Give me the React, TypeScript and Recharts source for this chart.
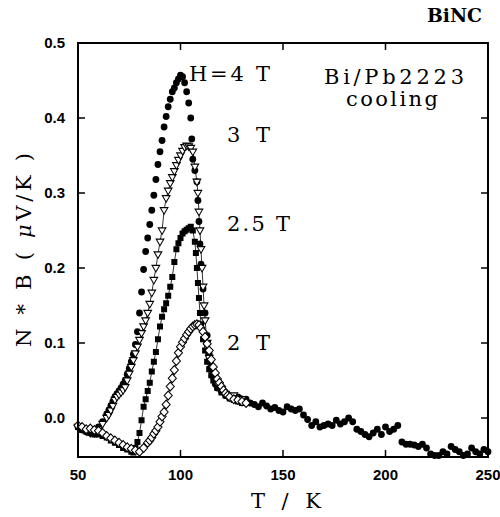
import React from "react";
import { LineChart, Line, XAxis, YAxis } from "recharts";

type Pt = [number, number];

// N*B (uV/K) vs T (K)
const h4T: Pt[] = [
  [50, -0.012], [52, -0.015], [54, -0.018], [56, -0.02], [58, -0.017], [60, -0.012], [62, -0.005],
  [64, 0.005], [65, 0.01], [66, 0.016], [67, 0.022], [68, 0.028], [69, 0.032], [70, 0.036],
  [71, 0.04], [72, 0.045], [73, 0.05], [74, 0.058], [75, 0.066], [76, 0.075], [77, 0.085],
  [78, 0.098], [79, 0.115], [80, 0.14], [81, 0.168], [82, 0.198], [83, 0.222], [84, 0.24],
  [85, 0.258], [86, 0.277], [87, 0.297], [88, 0.318], [89, 0.338], [90, 0.355], [91, 0.37],
  [92, 0.388], [93, 0.402], [94, 0.415], [95, 0.425], [96, 0.435], [97, 0.44], [98, 0.447],
  [99, 0.452], [100, 0.457], [101, 0.455], [102, 0.447], [103, 0.435], [104, 0.42], [105, 0.4],
  [105.5, 0.372], [106, 0.345], [107, 0.33], [108, 0.315], [108.5, 0.29], [109, 0.262],
  [109.5, 0.232], [110, 0.205], [111, 0.172], [112, 0.14], [113, 0.11], [114, 0.085], [115, 0.068],
  [116, 0.055], [117, 0.045], [118, 0.04], [120, 0.035], [122, 0.03], [124, 0.027], [126, 0.025],
  [128, 0.028], [130, 0.022], [132, 0.025], [134, 0.02], [136, 0.018], [138, 0.015], [140, 0.02],
  [142, 0.016], [144, 0.012], [146, 0.014], [148, 0.01], [150, 0.008], [152, 0.015], [154, 0.012],
  [156, 0.01], [158, 0.012], [160, 0.004], [162, -0.002], [164, -0.01], [166, -0.005], [168, -0.012],
  [170, -0.01], [172, -0.008], [174, -0.01], [176, -0.003], [178, -0.008], [180, -0.005], [182, 0.0],
  [184, -0.005], [186, -0.015], [188, -0.018], [190, -0.022], [192, -0.025], [194, -0.02],
  [196, -0.015], [198, -0.022], [200, -0.012], [202, -0.018], [204, -0.015], [206, -0.01],
  [208, -0.032], [210, -0.035], [212, -0.035], [214, -0.036], [216, -0.038], [218, -0.035],
  [220, -0.04], [222, -0.048], [224, -0.05], [226, -0.05], [228, -0.045], [230, -0.048],
  [232, -0.038], [234, -0.042], [236, -0.045], [238, -0.05], [240, -0.048], [242, -0.04],
  [244, -0.045], [246, -0.048], [248, -0.042], [250, -0.045],
];

const h3T: Pt[] = [
  [50, -0.012], [52, -0.015], [54, -0.018], [56, -0.02], [58, -0.02], [60, -0.015], [62, -0.008],
  [64, 0.0], [65, 0.004], [66, 0.01], [67, 0.016], [68, 0.024], [69, 0.028], [70, 0.031],
  [71, 0.034], [72, 0.037], [73, 0.041], [74, 0.05], [75, 0.059], [76, 0.068], [77, 0.077],
  [78, 0.086], [79, 0.095], [80, 0.104], [81, 0.113], [82, 0.122], [83, 0.13], [84, 0.14],
  [85, 0.152], [86, 0.167], [87, 0.184], [88, 0.2], [89, 0.218], [90, 0.235], [91, 0.25],
  [92, 0.277], [93, 0.293], [94, 0.303], [95, 0.313], [96, 0.321], [97, 0.329], [98, 0.337],
  [99, 0.344], [100, 0.35], [101, 0.356], [102, 0.361], [103, 0.363], [104, 0.362], [105, 0.36],
  [106, 0.355], [107, 0.335], [108, 0.315], [108.5, 0.3], [109, 0.275], [109.5, 0.25],
  [110, 0.225], [110.5, 0.2], [111, 0.175], [111.5, 0.15], [112, 0.13], [113, 0.1], [114, 0.08],
  [115, 0.065], [116, 0.055], [118, 0.045], [120, 0.038], [122, 0.032], [124, 0.028],
  [126, 0.03], [128, 0.026], [130, 0.025],
];

const h25T: Pt[] = [
  [50, -0.012], [52, -0.016], [54, -0.018], [56, -0.02], [58, -0.022], [60, -0.022], [62, -0.024],
  [64, -0.026], [66, -0.03], [68, -0.033], [70, -0.036], [72, -0.04], [74, -0.042], [76, -0.045],
  [77, -0.046], [78, -0.04], [79, -0.032], [80, -0.02], [81, -0.003], [82, 0.015], [83, 0.025],
  [84, 0.036], [85, 0.047], [86, 0.062], [87, 0.075], [88, 0.088], [89, 0.105], [90, 0.122],
  [91, 0.135], [92, 0.145], [93, 0.153], [94, 0.163], [95, 0.175], [96, 0.188], [97, 0.208],
  [98, 0.225], [99, 0.233], [100, 0.24], [101, 0.246], [102, 0.249], [103, 0.251], [104, 0.253],
  [105, 0.255], [106, 0.25], [107, 0.235], [107.5, 0.22], [108, 0.2], [108.5, 0.18],
  [109, 0.16], [109.5, 0.14], [110, 0.125], [111, 0.105], [112, 0.09], [113, 0.075], [114, 0.065],
  [115, 0.057], [116, 0.05], [118, 0.04], [120, 0.034], [122, 0.03], [124, 0.026], [126, 0.024],
  [128, 0.022], [130, 0.02],
];

const h2T: Pt[] = [
  [50, -0.01], [52, -0.012], [54, -0.015], [56, -0.014], [58, -0.016], [60, -0.017], [62, -0.02],
  [64, -0.024], [66, -0.027], [68, -0.03], [70, -0.033], [72, -0.036], [74, -0.039], [76, -0.041],
  [78, -0.043], [80, -0.045], [82, -0.04], [84, -0.033], [85, -0.03], [86, -0.026], [87, -0.021],
  [88, -0.017], [89, -0.012], [90, -0.005], [91, 0.002], [92, 0.008], [93, 0.018], [94, 0.03],
  [95, 0.042], [96, 0.053], [97, 0.064], [98, 0.076], [99, 0.087], [100, 0.095], [101, 0.101],
  [102, 0.106], [103, 0.111], [104, 0.115], [105, 0.119], [106, 0.122], [107, 0.124],
  [108, 0.125], [109, 0.124], [110, 0.12], [111, 0.115], [112, 0.108], [113, 0.099], [114, 0.09],
  [115, 0.078], [116, 0.068], [117, 0.06], [118, 0.052], [119, 0.047], [120, 0.042], [121, 0.037],
  [122, 0.033], [123, 0.03], [124, 0.028], [126, 0.025], [128, 0.024], [130, 0.022], [132, 0.02],
];

const xTicks = [50, 100, 150, 200, 250];
const yTicks = [0, 0.1, 0.2, 0.3, 0.4, 0.5];
const xDomain = [50, 250];
const yDomain = [-0.052, 0.5];

const toRows = (pts: Pt[]) => pts.map(([t, v]) => ({ t, v }));

// chart box
const W = 500;
const H = 517;
const M = { top: 43, right: 12, bottom: 0, left: 0 };
const X_AXIS_H = 60;
const Y_AXIS_W = 78;
const plot = {
  left: M.left + Y_AXIS_W,
  top: M.top,
  right: W - M.right,
  bottom: H - M.bottom - X_AXIS_H,
};
const px = (t: number) => plot.left + ((t - xDomain[0]) / (xDomain[1] - xDomain[0])) * (plot.right - plot.left);
const py = (v: number) => plot.bottom - ((v - yDomain[0]) / (yDomain[1] - yDomain[0])) * (plot.bottom - plot.top);

const serif = "'DejaVu Serif', 'Liberation Serif', serif";
const tickFontFamily = "'Liberation Sans', Arial, sans-serif";
const TICK = 7;
const OFF = 8; // default tickSize + tickMargin

const BottomTick = (p: any) => (
  <text x={p.x} y={p.y - OFF + 23} textAnchor="middle" fontFamily={tickFontFamily} fontSize={15} fontWeight={700}>
    {p.payload.value}
  </text>
);
const LeftTick = (p: any) => (
  <text x={p.x + OFF - 13} y={p.y + 5} textAnchor="end" fontFamily={tickFontFamily} fontSize={15} fontWeight={700}>
    {Number(p.payload.value).toFixed(1)}
  </text>
);

const circleDot = (p: any) => (
  <circle key={`c${p.index}`} cx={p.cx} cy={p.cy} r={3.4} fill="#000" />
);
const squareDot = (p: any) => (
  <rect key={`s${p.index}`} x={p.cx - 3} y={p.cy - 3} width={6} height={6} fill="#000" />
);
const triDot = (p: any) => (
  <path
    key={`t${p.index}`}
    d={`M${p.cx - 3.8},${p.cy - 2.6}L${p.cx + 3.8},${p.cy - 2.6}L${p.cx},${p.cy + 4}Z`}
    fill="#fff"
    stroke="#000"
    strokeWidth={1.1}
  />
);
const diamondDot = (p: any) => (
  <path
    key={`d${p.index}`}
    d={`M${p.cx},${p.cy - 4.4}L${p.cx + 4},${p.cy}L${p.cx},${p.cy + 4.4}L${p.cx - 4},${p.cy}Z`}
    fill="#fff"
    stroke="#000"
    strokeWidth={1.1}
  />
);

export default function App() {
  const axisLine = { stroke: "#000", strokeWidth: 2 };
  const innerX = xTicks.slice(1, -1);
  const innerY = yTicks.slice(1, -1);
  return (
    <div style={{ position: "absolute", left: 0, top: 0, width: W, height: H, background: "#fff" }}>
      <LineChart width={W} height={H} margin={M}>
        <XAxis
          dataKey="t"
          type="number"
          domain={xDomain}
          ticks={xTicks}
          height={X_AXIS_H}
          axisLine={axisLine}
          tickLine={false}
          tick={BottomTick}
        />
        <YAxis
          type="number"
          domain={yDomain}
          ticks={yTicks}
          width={Y_AXIS_W}
          axisLine={axisLine}
          tickLine={false}
          tick={LeftTick}
        />
        <Line data={toRows(h4T)} dataKey="v" stroke="none" dot={circleDot} isAnimationActive={false} />
        <Line data={toRows(h3T)} dataKey="v" stroke="#000" strokeWidth={0.8} dot={triDot} isAnimationActive={false} />
        <Line data={toRows(h25T)} dataKey="v" stroke="#000" strokeWidth={0.8} dot={squareDot} isAnimationActive={false} />
        <Line data={toRows(h2T)} dataKey="v" stroke="#000" strokeWidth={0.8} dot={diamondDot} isAnimationActive={false} />
      </LineChart>
      <svg width={W} height={H} style={{ position: "absolute", left: 0, top: 0, pointerEvents: "none" }}>
        {/* frame with inward ticks on all four sides */}
        <rect
          x={plot.left}
          y={plot.top}
          width={plot.right - plot.left}
          height={plot.bottom - plot.top}
          fill="none"
          stroke="#000"
          strokeWidth={2}
        />
        <g stroke="#000" strokeWidth={1.5}>
          {innerX.map((t) => (
            <g key={`x${t}`}>
              <line x1={px(t)} x2={px(t)} y1={plot.bottom} y2={plot.bottom - TICK} />
              <line x1={px(t)} x2={px(t)} y1={plot.top} y2={plot.top + TICK} />
            </g>
          ))}
          {innerY.map((v) => (
            <line key={`yl${v}`} x1={plot.left} x2={plot.left + TICK} y1={py(v)} y2={py(v)} />
          ))}
          {yTicks.slice(0, -1).map((v) => (
            <line key={`yr${v}`} x1={plot.right} x2={plot.right - TICK} y1={py(v)} y2={py(v)} />
          ))}
        </g>
        <text x={427} y={22} textLength={55} lengthAdjust="spacingAndGlyphs" fontFamily={serif} fontWeight={700} fontSize={18}>BiNC</text>
        <g fontFamily={serif} fontSize={21} fill="#000">
          <text x={189} y={81} textLength={81}>H=4 T</text>
          <text x={227} y={142} textLength={43}>3 T</text>
          <text x={227} y={231} textLength={63}>2.5 T</text>
          <text x={227} y={350} textLength={43}>2 T</text>
          <text x={324} y={84} textLength={140}>Bi/Pb2223</text>
          <text x={346} y={106} textLength={92}>cooling</text>
          <text x={251} y={508} textLength={70}>T / K</text>
          <text
            x={0}
            y={0}
            textLength={194}
            textAnchor="middle"
            transform="translate(31,250) rotate(-90)"
          >
            N * B ( <tspan fontStyle="italic">μ</tspan>V/K )
          </text>
        </g>
      </svg>
    </div>
  );
}
